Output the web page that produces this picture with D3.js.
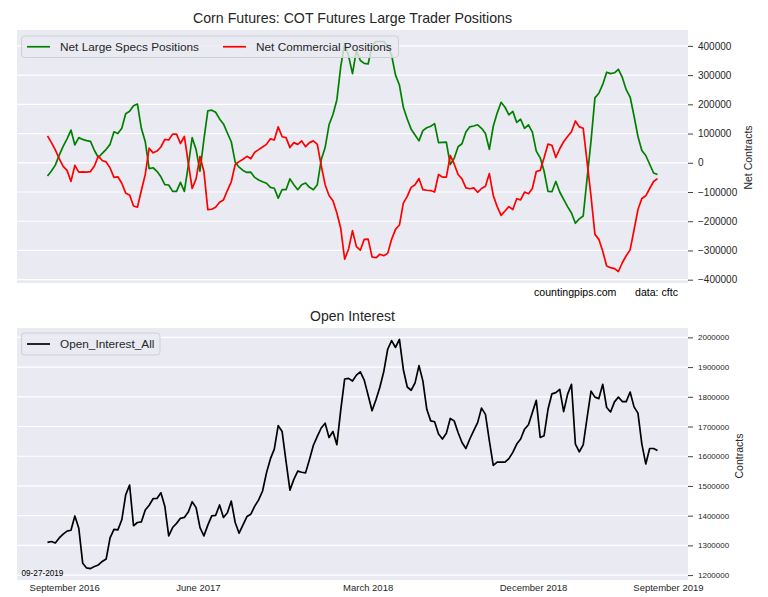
<!DOCTYPE html>
<html>
<head>
<meta charset="utf-8">
<script src="https://cdnjs.cloudflare.com/ajax/libs/d3/7.8.5/d3.min.js"></script>
<style>
body{margin:0;background:#fff;}
svg{display:block;font-family:"Liberation Sans",Arial,sans-serif;}
</style>
</head>
<body>
<svg id="chart" width="768" height="597"></svg>
<script>
// weekly values, in thousands of contracts
var specs = [-45, -28, -8, 26, 56, 82, 112, 61, 86, 80,
    76, 73, 42, 18, 32, 46, 63, 106, 100, 118,
    168, 176, 195, 201, 118, 72, -20, -17, -29, -48,
    -75, -76, -98, -98, -67, -98, -10, 86, 45, -29,
    80, 178, 180, 173, 150, 133, 102, 72, 2, -15,
    -26, -33, -32, -50, -59, -65, -70, -84, -87, -121,
    -92, -92, -55, -75, -92, -75, -69, -84, -92, -75,
    10, 52, 130, 165, 215, 330, 408, 365, 305, 385,
    350, 340, 338, 400, 415, 415, 415, 400, 368, 300,
    266, 190, 150, 115, 95, 75, 110, 120, 125, 134,
    69, 70, 71, -6, 15, 55, 65, 105, 123, 126,
    130, 118, 100, 46, 125, 170, 207, 190, 164, 176,
    138, 149, 118, 130, 105, 40, 17, -29, -98, -99,
    -64, -100, -125, -150, -172, -207, -192, -182, -53, 75,
    222, 238, 268, 310, 305, 308, 320, 292, 250, 225,
    160, 90, 42, 25, -5, -35, -40];

var comm = [92, 69, 44, 14, -12, -26, -64, -9, -32, -31,
    -32, -30, -11, 23, 8, 3, -18, -50, -48, -70,
    -104, -110, -148, -152, -95, -40, 50, 34, 40, 54,
    80, 78, 98, 98, 66, 90, 0, -88, -55, 22,
    -30, -160, -159, -152, -135, -127, -95, -65, -6, 4,
    12, 22, 14, 36, 45, 54, 63, 82, 78, 123,
    89, 86, 52, 69, 63, 75, 55, 69, 75, 63,
    -10, -75, -112, -130, -172, -225, -330, -295, -232, -287,
    -299, -262, -261, -322, -325, -313, -318, -310, -262, -228,
    -213, -138, -115, -84, -75, -54, -92, -94, -95, -100,
    -40, -49, -49, 25, -4, -40, -55, -86, -89, -86,
    -101, -88, -80, -37, -112, -150, -180, -165, -150, -160,
    -123, -127, -100, -106, -88, -30, -26, 17, 64, 60,
    18, 48, 72, 90, 106, 143, 123, 118, 2, -115,
    -245, -262, -303, -353, -359, -362, -372, -342, -318, -298,
    -230, -160, -122, -113, -88, -64, -54];

var openInt = [1310, 1313, 1308, 1325, 1338, 1348, 1351, 1399, 1358, 1240,
    1224, 1222, 1229, 1234, 1246, 1254, 1325, 1354, 1352, 1386,
    1470, 1503, 1366, 1377, 1379, 1419, 1435, 1457, 1458, 1477,
    1432, 1332, 1360, 1374, 1391, 1394, 1412, 1447, 1427, 1360,
    1332, 1368, 1399, 1401, 1436, 1394, 1410, 1449, 1377, 1341,
    1369, 1397, 1405, 1432, 1453, 1483, 1544, 1591, 1624, 1703,
    1683, 1583, 1486, 1522, 1550, 1546, 1544, 1589, 1637, 1667,
    1695, 1711, 1663, 1683, 1639, 1756, 1860, 1862, 1853, 1873,
    1884, 1856, 1805, 1753, 1790, 1832, 1885, 1960, 1989, 1966,
    1993, 1892, 1833, 1822, 1847, 1905, 1853, 1758, 1719, 1716,
    1675, 1658, 1677, 1727, 1719, 1680, 1646, 1626, 1658, 1686,
    1713, 1762, 1741, 1652, 1569, 1580, 1580, 1580, 1592, 1613,
    1641, 1658, 1691, 1706, 1747, 1788, 1663, 1669, 1758, 1810,
    1814, 1825, 1750, 1808, 1842, 1641, 1615, 1638, 1730, 1819,
    1799, 1794, 1842, 1764, 1749, 1783, 1799, 1784, 1784, 1816,
    1766, 1745, 1641, 1574, 1626, 1626, 1619];

// x tick positions in weeks from first report
var tickPos = [4.4, 38.6, 82, 124.3, 158.8];
var tickLabels = ["September 2016", "June 2017", "March 2018", "December 2018", "September 2019"];
var netTicks = [-400000, -300000, -200000, -100000, 0, 100000, 200000, 300000, 400000];
var oiTicks = [1200000, 1300000, 1400000, 1500000, 1600000, 1700000, 1800000, 1900000, 2000000];

var unit = 1000;
var left = 17, right = 688;
var top1 = 30, bot1 = 283, top2 = 328, bot2 = 580;
var textCol = "#262626";

var svg = d3.select("#chart");
var n = specs.length;

var x = d3.scaleLinear()
    .domain([-(n - 1) * 0.05, (n - 1) * 1.05])
    .range([left, right]);

function padded(ext) {
    var r = ext[1] - ext[0];
    return [ext[0] - r * 0.05, ext[1] + r * 0.05];
}

var y1 = d3.scaleLinear()
    .domain(padded(d3.extent(specs.concat(comm))).map(function(d){ return d * unit; }))
    .range([bot1, top1]);
var y2 = d3.scaleLinear()
    .domain(padded(d3.extent(openInt)).map(function(d){ return d * unit; }))
    .range([bot2, top2]);

function drawPanel(y, top, bot, ticks, fontSize) {
    var g = svg.append("g");
    g.append("rect")
        .attr("x", left)
        .attr("y", top)
        .attr("width", right - left)
        .attr("height", bot - top)
        .attr("fill", "#eaeaf2");
    g.selectAll("line.grid")
        .data(ticks)
        .enter()
        .append("line")
        .attr("class", "grid")
        .attr("x1", left)
        .attr("x2", right)
        .attr("y1", function(d){ return y(d); })
        .attr("y2", function(d){ return y(d); })
        .attr("stroke", "#ffffff")
        .attr("stroke-width", 1.2);
    var ax = svg.append("g")
        .attr("transform", "translate(" + right + ",0)")
        .call(d3.axisRight(y).tickValues(ticks).tickSize(5).tickPadding(5)
            .tickFormat(d3.format("d")));
    ax.select(".domain").remove();
    ax.selectAll(".tick line").attr("stroke", "#444").attr("stroke-width", 1);
    ax.selectAll(".tick text")
        .attr("fill", textCol)
        .attr("font-size", fontSize)
        .attr("font-family", "Liberation Sans, Arial, sans-serif");
}

function drawLine(data, y, color) {
    var line = d3.line()
        .x(function(d, i){ return x(i); })
        .y(function(d){ return y(d * unit); });
    svg.append("path")
        .datum(data)
        .attr("d", line)
        .attr("fill", "none")
        .attr("stroke", color)
        .attr("stroke-width", 1.7)
        .attr("stroke-linejoin", "round");
}

function drawLegend(bx, by, bw, bh, items) {
    var g = svg.append("g");
    g.append("rect")
        .attr("x", bx)
        .attr("y", by)
        .attr("width", bw)
        .attr("height", bh)
        .attr("rx", 3)
        .attr("fill", "#eaeaf2")
        .attr("fill-opacity", 0.8)
        .attr("stroke", "#cfcfd6")
        .attr("stroke-width", 1);
    items.forEach(function(it) {
        var cy = by + bh / 2;
        g.append("line")
            .attr("x1", it.x)
            .attr("x2", it.x + 23)
            .attr("y1", cy)
            .attr("y2", cy)
            .attr("stroke", it.color)
            .attr("stroke-width", 1.7);
        g.append("text")
            .attr("x", it.x + 33)
            .attr("y", cy)
            .attr("dy", "0.35em")
            .attr("font-size", 11.8)
            .attr("fill", textCol)
            .text(it.label);
    });
}

// top panel
drawPanel(y1, top1, bot1, netTicks, 10);
drawLine(specs, y1, "#008000");
drawLine(comm, y1, "#ff0000");
drawLegend(21.5, 36, 377, 21.5, [
    {x: 27, color: "#008000", label: "Net Large Specs Positions"},
    {x: 223, color: "#ff0000", label: "Net Commercial Positions"}
]);

svg.append("text")
    .attr("x", (left + right) / 2)
    .attr("y", 23)
    .attr("text-anchor", "middle")
    .attr("font-size", 14.2)
    .attr("fill", textCol)
    .text("Corn Futures: COT Futures Large Trader Positions");

svg.append("text")
    .attr("transform", "translate(751.5,157.5) rotate(-90)")
    .attr("text-anchor", "middle")
    .attr("font-size", 10.5)
    .attr("fill", textCol)
    .text("Net Contracts");

svg.append("text")
    .attr("x", 534)
    .attr("y", 296)
    .attr("font-size", 10.6)
    .attr("fill", "#000")
    .text("countingpips.com");
svg.append("text")
    .attr("x", 635)
    .attr("y", 296)
    .attr("font-size", 10.6)
    .attr("fill", "#000")
    .text("data: cftc");

// bottom panel
drawPanel(y2, top2, bot2, oiTicks, 8);
drawLine(openInt, y2, "#000000");
drawLegend(21.5, 333, 138.5, 22, [
    {x: 27, color: "#000000", label: "Open_Interest_All"}
]);

svg.append("text")
    .attr("x", (left + right) / 2)
    .attr("y", 321)
    .attr("text-anchor", "middle")
    .attr("font-size", 14)
    .attr("fill", textCol)
    .text("Open Interest");

svg.append("text")
    .attr("transform", "translate(743,456) rotate(-90)")
    .attr("text-anchor", "middle")
    .attr("font-size", 10.5)
    .attr("fill", textCol)
    .text("Contracts");

svg.append("text")
    .attr("x", 21.5)
    .attr("y", 575.5)
    .attr("font-size", 8.2)
    .attr("fill", "#000")
    .text("09-27-2019");

svg.selectAll("text.xtick")
    .data(tickPos)
    .enter()
    .append("text")
    .attr("class", "xtick")
    .attr("x", function(d){ return x(d); })
    .attr("y", 591)
    .attr("text-anchor", "middle")
    .attr("font-size", 9.5)
    .attr("fill", textCol)
    .text(function(d, i){ return tickLabels[i]; });
</script>
</body>
</html>
